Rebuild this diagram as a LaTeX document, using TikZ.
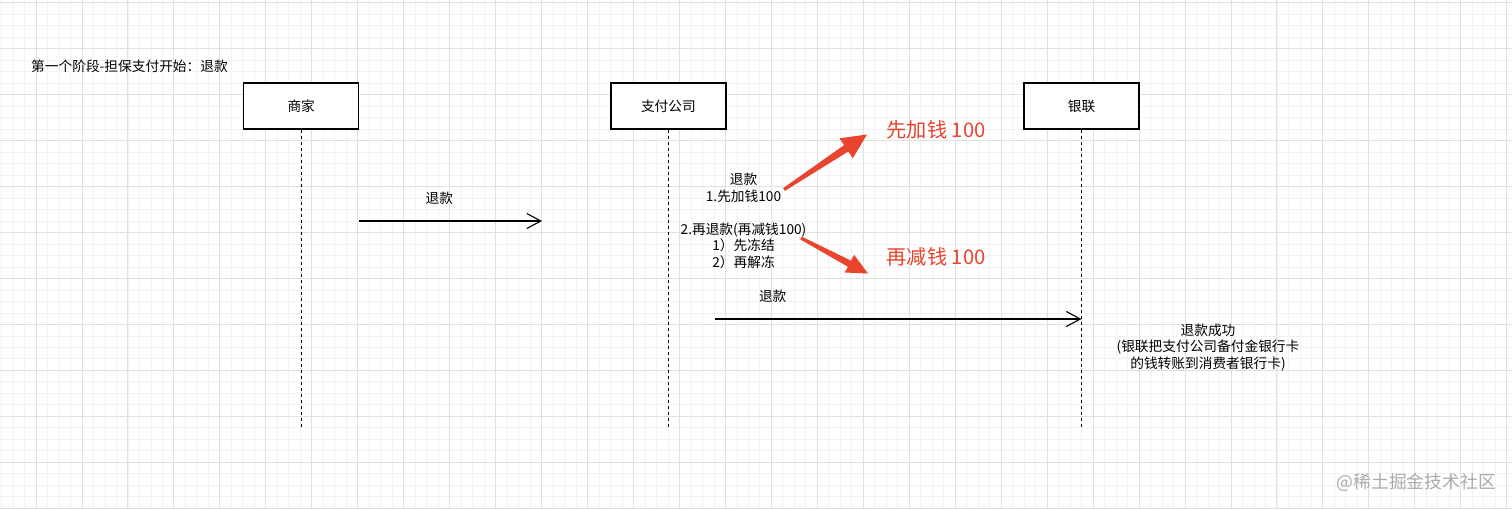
\documentclass[tikz,border=0pt]{standalone}
\usepackage{fontspec}
\setmainfont{Noto Sans CJK SC}
\usetikzlibrary{arrows.meta,calc}
\definecolor{gridminor}{HTML}{F2F2F2}
\definecolor{gridmajor}{HTML}{E0E0E0}
\definecolor{annred}{HTML}{E8442E}
\definecolor{wmgray}{HTML}{ABABAB}
\newcommand\fatarrow[5]{% tail, tip, head length, head half width, shaft half width
  \coordinate (h#1) at ($(#2)!#3pt!(#1)$);
  \fill[annred] ($(#1)!1.6pt!90:(#2)$) -- ($(h#1)!#5pt!90:(#2)$) --
    ($(h#1)!#4pt!90:(#2)$) -- (#2) -- ($(h#1)!#4pt!-90:(#2)$) --
    ($(h#1)!#5pt!-90:(#2)$) -- ($(#1)!1.6pt!-90:(#2)$) -- cycle;}
\tikzset{
  actor/.style={draw=black, line width=1.2pt, fill=white, minimum width=115pt,
    minimum height=46pt, inner sep=0pt, font=\fontsize{13.7}{16}\selectfont},
  lifeline/.style={line width=1.1pt, dash pattern=on 3pt off 3pt},
  msg/.style={line width=1.1pt, -{Straight Barb[length=14pt,width=15pt,line width=1.1pt]}},
  txt/.style={inner sep=0pt, align=center, font=\fontsize{13.7}{16.5}\selectfont},
  redtxt/.style={inner sep=0pt, text=annred, font=\fontsize{20.2}{24}\selectfont},
}
\begin{document}
\begin{tikzpicture}[x=1pt,y=-1pt]
\useasboundingbox (0,0) rectangle (1512,509);
\fill[white] (0,0) rectangle (1512,509);
% grid
\foreach \k in {0,...,131} {
  \pgfmathsetmacro\gx{1.53+11.49*\k}
  \draw[gridminor, line width=0.8pt] (\gx,0) -- (\gx,509);
}
\foreach \k in {0,...,44} {
  \pgfmathsetmacro\gy{2.7+11.49*\k}
  \draw[gridminor, line width=0.8pt] (0,\gy) -- (1512,\gy);
}
\foreach \k in {0,...,32} {
  \pgfmathsetmacro\gx{36+45.96*\k}
  \draw[gridmajor, line width=0.9pt] (\gx,0) -- (\gx,509);
}
\foreach \k in {0,...,11} {
  \pgfmathsetmacro\gy{2.7+45.96*\k}
  \draw[gridmajor, line width=0.9pt] (0,\gy) -- (1512,\gy);
}
% title
\node[txt, anchor=west] (title) at (31,66) {第一个阶段-担保支付开始：退款};
% actors
\node[actor] (merchant) at (301.2,106) {商家};
\node[actor] (pay) at (668.4,106) {支付公司};
\node[actor] (union) at (1081.5,106) {银联};
% lifelines
\coordinate (mEnd) at (301.2,428);
\coordinate (pEnd) at (668.4,428);
\coordinate (uEnd) at (1081.5,428);
\draw[lifeline] (merchant.south) -- (mEnd);
\draw[lifeline] (pay.south) -- (pEnd);
\draw[lifeline] (union.south) -- (uEnd);
% message 1
\coordinate (m1s) at (358.5,221);
\coordinate (m1e) at (542,221);
\draw[msg] (m1s) -- (m1e);
\node[txt] (m1lab) at (439.3,198.3) {退款};
% message 2
\coordinate (m2s) at (715,319);
\coordinate (m2e) at (1081.5,319);
\draw[msg] (m2s) -- (m2e);
\node[txt] (m2lab) at (772.7,296) {退款};
% notes
\node[txt] (note1) at (743.5,188) {退款\\1.先加钱100};
\node[txt] (note2) at (743.5,245.7) {2.再退款(再减钱100)\\1）先冻结\\2）再解冻};
\node[txt] (note3) at (1208,347.5) {退款成功\\(银联把支付公司备付金银行卡\\的钱转账到消费者银行卡)};
% red annotations
\node[redtxt, anchor=west] (red1) at (886.5,130) {先加钱 100};
\node[redtxt, anchor=west] (red2) at (886.5,257) {再减钱 100};
\coordinate (ra) at (784,189.5);
\coordinate (rb) at (867,134.5);
\coordinate (rc) at (801,238);
\coordinate (rd) at (868,273.5);
\fatarrow{ra}{rb}{25}{12}{3.8}
\fatarrow{rc}{rd}{21}{10}{3.4}
% watermark
\node[inner sep=0pt, anchor=east, text=wmgray, font=\fontsize{17.8}{21}\selectfont] (wm) at (1496,482) {@稀土掘金技术社区};
\end{tikzpicture}
\end{document}
